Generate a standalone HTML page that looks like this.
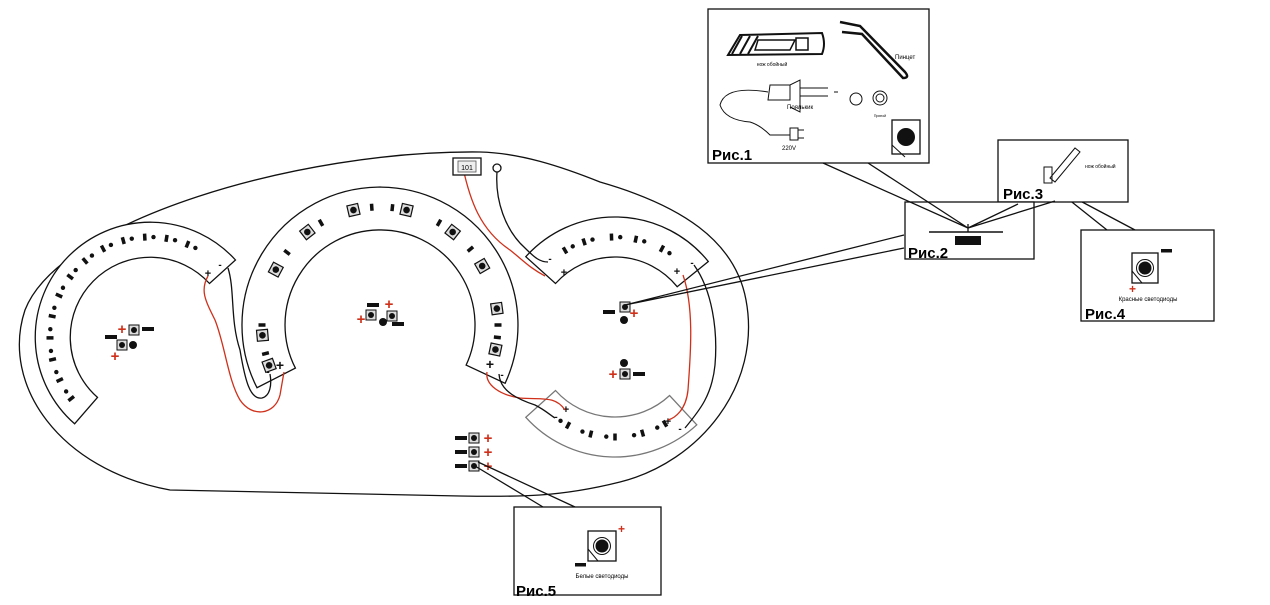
<!DOCTYPE html>
<html><head><meta charset="utf-8"><style>
html,body{margin:0;padding:0;background:#fff;width:1270px;height:605px;overflow:hidden}
svg{display:block}
text{font-family:"Liberation Sans","DejaVu Sans",sans-serif}
.lb{font-size:15px;font-weight:bold}
</style></head><body>
<svg id="s" width="1270" height="605" viewBox="0 0 1270 605" xmlns="http://www.w3.org/2000/svg">
<g fill="none" stroke="#111" stroke-width="1.3">
<path d="M480,152 C300,150 60,220 25,310 C0,385 60,470 170,490 L460,496 C520,497 560,497 620,482 C700,462 762,385 746,300 C735,240 680,205 600,182 C560,166 520,153 480,152 Z"/>
</g>
<g id="arcs" fill="#fff" stroke="#111" stroke-width="1.3"></g>
<g id="marks"></g>
<g fill="none" stroke-width="1.3">
<path d="M463,168 C470,200 480,230 510,250 C525,262 530,268 545,276" stroke="#d0301a"/>
<path d="M497,172 C495,200 505,230 525,248 C535,258 540,262 548,262" stroke="#111"/>
<path d="M208,276 C200,290 205,300 215,320 C225,345 228,380 240,400 C252,418 275,415 280,395 L284,372" stroke="#d0301a"/>
<path d="M228,268 C235,290 230,320 240,350 C245,380 250,400 262,398 C270,396 272,385 270,374" stroke="#111"/>
<path d="M487,372 C485,385 500,395 520,398 C540,400 555,395 565,410" stroke="#d0301a"/>
<path d="M499,374 C500,392 520,400 535,405 C545,410 550,415 555,418" stroke="#111"/>
<path d="M683,275 C695,310 690,360 688,390 C686,410 675,418 668,420" stroke="#d0301a"/>
<path d="M694,265 C712,290 718,330 715,365 C712,395 700,410 685,428" stroke="#111"/>
</g>
<rect x="453" y="158" width="28" height="17" fill="#fff" stroke="#111" stroke-width="1.3"/>
<rect x="458" y="161" width="18" height="11" fill="#eee" stroke="#555" stroke-width="0.8"/>
<text x="467" y="170" font-size="7" text-anchor="middle">101</text>
<circle cx="497" cy="168" r="4" fill="#fff" stroke="#111" stroke-width="1.3"/>
<g id="leds"></g>

<g stroke="#111" stroke-width="1.3" fill="none">
<rect x="708" y="9" width="221" height="154" fill="#fff"/>
<path d="M904,235 L625,305 L904,248"/>
<path d="M1048,183 L1107,230 M1052,186 L1135,230"/>
<path d="M475,466 L543,507 M478,462 L575,507"/>
</g>
<g stroke="#111" fill="none" stroke-width="2">
<path d="M740,35 L822,33 Q826,44 822,54 L728,55 Z" fill="#fff"/>
<path d="M732,54 L742,36 M740,54 L750,36 M748,54 L758,36" />
<path d="M758,40 L795,40 L790,50 L755,50 Z" stroke-width="1.5"/>
<rect x="796" y="38" width="12" height="12" stroke-width="1.5"/>
<path d="M840,22 L860,26 L905,72 Q910,78 903,78 L862,34 L842,32" stroke-width="2.5"/>
<path d="M770,85 L768,100 L790,100 L790,85 Z M770,85 L790,85 L800,80 L800,112 L790,107 M800,88 L828,88 M800,96 L828,96 M834,92 L838,92" stroke-width="1"/>
<path d="M768,92 Q725,85 720,105 Q725,120 750,122 Q760,125 770,135 L790,135" stroke-width="1"/>
<path d="M790,128 L798,128 L798,140 L790,140 Z M798,130 L804,130 M798,138 L804,138" stroke-width="1"/>
<circle cx="856" cy="99" r="6" stroke-width="1"/>
<circle cx="880" cy="98" r="7" stroke-width="1"/>
<circle cx="880" cy="98" r="4" stroke-width="1"/>
<rect x="892" y="120" width="28" height="34" stroke-width="1.3"/>
<circle cx="906" cy="137" r="8" fill="#111"/>
<line x1="892" y1="145" x2="905" y2="157" stroke-width="1"/>
</g>
<text x="772" y="66" font-size="5" text-anchor="middle">нож обойный</text>
<text x="895" y="59" font-size="6">Пинцет</text>
<text x="787" y="109" font-size="6">Поялькик</text>
<text x="782" y="150" font-size="6">220V</text>
<text x="880" y="117" font-size="3.5" text-anchor="middle">Припой</text>
<text x="712" y="160" class="lb">Рис.1</text>

<rect x="998" y="140" width="130" height="62" fill="#fff" stroke="#111" stroke-width="1.3"/>
<rect x="1044" y="167" width="8" height="16" fill="none" stroke="#111" stroke-width="1"/>
<path d="M1050,178 L1075,148 L1080,152 L1055,182 Z" fill="none" stroke="#111" stroke-width="1"/>
<text x="1085" y="168" font-size="5">нож обойный</text>
<rect x="905" y="202" width="129" height="57" fill="#fff" stroke="#111" stroke-width="1.3"/>
<text x="1023" y="199" class="lb" text-anchor="middle" stroke="#fff" stroke-width="3" paint-order="stroke">Рис.3</text>
<line x1="929" y1="232" x2="1003" y2="232" stroke="#111" stroke-width="1.5"/>
<rect x="955" y="236" width="26" height="9" fill="#111"/>
<line x1="968" y1="224" x2="968" y2="232" stroke="#111" stroke-width="1.3"/>
<path d="M968,228 L1018,204 M968,228 L1055,201 M823,163 L968,228 L868,163" stroke="#111" stroke-width="1.3" fill="none"/>
<text x="908" y="258" class="lb">Рис.2</text>
<rect x="1081" y="230" width="133" height="91" fill="#fff" stroke="#111" stroke-width="1.3"/>
<rect x="1132" y="253" width="26" height="30" fill="none" stroke="#111" stroke-width="1.3"/>
<circle cx="1145" cy="268" r="7" fill="#111" stroke="#fff" stroke-width="1"/>
<circle cx="1145" cy="268" r="8.5" fill="none" stroke="#111" stroke-width="1"/>
<line x1="1132" y1="271" x2="1142" y2="283" stroke="#111"/>
<rect x="1161" y="249" width="11" height="3.5" fill="#111"/>
<text x="1129" y="293" font-size="12" fill="#d0301a" font-weight="bold">+</text>
<text x="1148" y="301" font-size="6" text-anchor="middle">Красные светодиоды</text>
<text x="1085" y="319" class="lb">Рис.4</text>
<rect x="514" y="507" width="147" height="88" fill="#fff" stroke="#111" stroke-width="1.3"/>
<rect x="588" y="531" width="28" height="30" fill="none" stroke="#111" stroke-width="1.3"/>
<circle cx="602" cy="546" r="7" fill="#111" stroke="#fff" stroke-width="1"/>
<circle cx="602" cy="546" r="8.5" fill="none" stroke="#111" stroke-width="1"/>
<line x1="588" y1="549" x2="598" y2="561" stroke="#111"/>
<rect x="575" y="563" width="11" height="3.5" fill="#111"/>
<text x="618" y="533" font-size="12" fill="#d0301a" font-weight="bold">+</text>
<text x="602" y="578" font-size="6" text-anchor="middle">Белые светодиоды</text>
<text x="516" y="596" class="lb">Рис.5</text>
</svg>
<script>
var NS="http://www.w3.org/2000/svg";
function el(p,t,a){var e=document.createElementNS(NS,t);for(var k in a)e.setAttribute(k,a[k]);p.appendChild(e);return e;}
var A=document.getElementById('arcs'),M=document.getElementById('marks'),L=document.getElementById('leds');
function rad(d){return d*Math.PI/180}
function sector(cx,cy,r1,r2,a0,a1,col){
 var p=function(r,a){return (cx+r*Math.cos(rad(a))).toFixed(1)+","+(cy+r*Math.sin(rad(a))).toFixed(1)};
 var lg=(a1-a0)>180?1:0;
 var d="M"+p(r2,a0)+" A"+r2+","+r2+" 0 "+lg+" 1 "+p(r2,a1)+" L"+p(r1,a1)+" A"+r1+","+r1+" 0 "+lg+" 0 "+p(r1,a0)+" Z";
 el(A,'path',{d:d,stroke:col||'#111'});
}
sector(150,337,80,115,131,318);
sector(380,325,95,138,153,385);
sector(615,337,80,120,222,321);
sector(615,337,80,120,47,138,'#777');
function dash(cx,cy,r,a,w,h){var x=cx+r*Math.cos(rad(a)),y=cy+r*Math.sin(rad(a));
 el(M,'rect',{x:x-w/2,y:y-h/2,width:w,height:h,fill:'#111',transform:'rotate('+(a)+' '+x+' '+y+')'});}
function dot(cx,cy,r,a,s){var x=cx+r*Math.cos(rad(a)),y=cy+r*Math.sin(rad(a));el(M,'circle',{cx:x,cy:y,r:s||2.2,fill:'#111'});}
function led(x,y,a){var g=el(M,'g',{transform:'translate('+x+','+y+') rotate('+(a||0)+')'});
 el(g,'rect',{x:-5.5,y:-5.5,width:11,height:11,fill:'#ddd',stroke:'#111','stroke-width':1.2});
 el(g,'circle',{cx:0,cy:0,r:3.3,fill:'#111'});}
function ledA(cx,cy,r,a){led(cx+r*Math.cos(rad(a)),cy+r*Math.sin(rad(a)),a);}
for(var a=142;a<=300;a+=12.5){dash(150,337,100,a,7,3.5);dot(150,337,100,a+5);}
[160,175,208,232,257,283,308,330,352,372].forEach(function(a){ledA(380,325,118,a);});
[166,180,218,240,266,276,300,320,360,366].forEach(function(a){dash(380,325,118,a,7,3.5);});
[240,252,268,282,298].forEach(function(a){dash(615,337,100,a,7,3.5);dot(615,337,100,a+5);});
[60,74,90,104,118].forEach(function(a){dash(615,337,100,a,7,3.5);dot(615,337,100,a+5);});
function txt(x,y,s,sz,c){var t=el(M,'text',{x:x,y:y,'font-size':sz,fill:c||'#111','font-weight':'bold','text-anchor':'middle'});t.textContent=s;}
txt(208,277,'+',11);txt(220,268,'-',10);txt(280,370,'+',14);txt(268,375,'-',10);
txt(490,369,'+',14);txt(502,378,'-',10);txt(564,276,'+',11);txt(550,262,'-',10);
txt(677,275,'+',11);txt(692,266,'-',10);txt(566,413,'+',11);txt(556,420,'-',10);
txt(668,425,'+',11);txt(680,432,'-',10);
function plus(x,y){var t=el(L,'text',{x:x,y:y,'font-size':15,fill:'#d0301a','font-weight':'bold','text-anchor':'middle'});t.textContent='+';}
function minus(x,y){el(L,'rect',{x:x-6,y:y-2,width:12,height:4,fill:'#111'});}
function bdot(x,y){el(L,'circle',{cx:x,cy:y,r:4,fill:'#111'});}
function lsq(x,y){var g=el(L,'g',{});el(g,'rect',{x:x-5,y:y-5,width:10,height:10,fill:'#ddd',stroke:'#111','stroke-width':1});el(g,'circle',{cx:x,cy:y,r:3,fill:'#111'});}
lsq(134,330);lsq(122,345);plus(122,334);minus(148,329);minus(111,337);bdot(133,345);plus(115,361);
lsq(371,315);lsq(392,316);minus(373,305);plus(389,309);plus(361,324);bdot(383,322);minus(398,324);
lsq(625,307);minus(609,312);plus(634,318);bdot(624,320);
lsq(625,374);bdot(624,363);plus(613,379);minus(639,374);
[438,452,466].forEach(function(y){lsq(474,y);minus(461,y);plus(488,y+5);});
</script>
</body></html>
